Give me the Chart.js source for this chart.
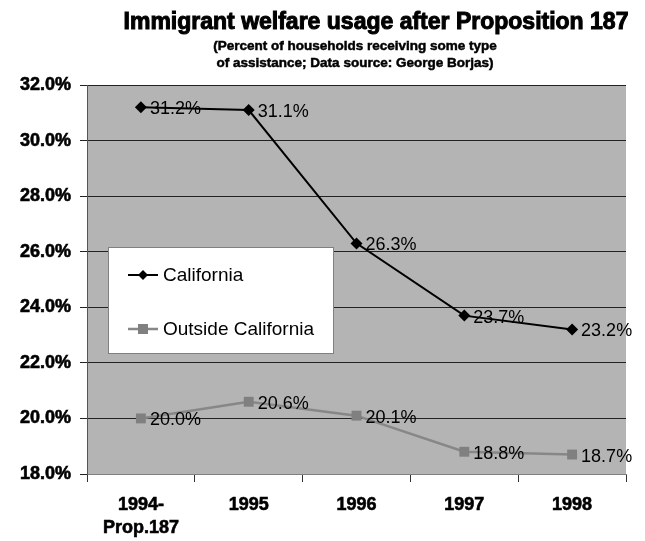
<!DOCTYPE html>
<html lang="en">
<head>
<meta charset="UTF-8">
<title>Immigrant welfare usage after Proposition 187</title>
<script src="https://cdn.jsdelivr.net/npm/chart.js"></script>
<style>
    body { margin: 0; background: #fff; }
    #wrap { width: 645px; height: 541px; }
</style>
</head>
<body>
<div id="wrap"><canvas id="chart"></canvas></div>
<script>
// data
const categories = [["1994-", "Prop.187"], "1995", "1996", "1997", "1998"];
const california = [31.2, 31.1, 26.3, 23.7, 23.2];
const outsideCalifornia = [20.0, 20.6, 20.1, 18.8, 18.7];
const seriesNames = ["California", "Outside California"];

const FONT = "'Liberation Sans', Arial, sans-serif";

// grey plot background
const plotBg = {
    id: 'plotBg',
    beforeDraw(chart) {
        const a = chart.chartArea, c = chart.ctx;
        c.save();
        c.fillStyle = '#b4b4b4';
        c.fillRect(a.left, a.top, a.right - a.left, a.bottom - a.top);
        c.restore();
    }
};

// title + subtitle (stroked a little to look heavier)
const titles = {
    id: 'titles',
    afterDraw(chart) {
        const c = chart.ctx;
        c.save();
        c.fillStyle = '#000';
        c.strokeStyle = '#000';
        c.textAlign = 'center';
        c.textBaseline = 'alphabetic';
        c.font = 'bold 23px ' + FONT;
        c.lineWidth = 1;
        c.fillText('Immigrant welfare usage after Proposition 187', 376, 29);
        c.strokeText('Immigrant welfare usage after Proposition 187', 376, 29);
        c.font = 'bold 13.5px ' + FONT;
        c.lineWidth = 0.5;
        ['(Percent of households receiving some type', 'of assistance; Data source: George Borjas)'].forEach((t, i) => {
            c.fillText(t, 355, 50 + i * 17);
            c.strokeText(t, 355, 50 + i * 17);
        });
        c.restore();
    }
};

// value labels right of each point
const valueLabels = {
    id: 'valueLabels',
    afterDatasetsDraw(chart) {
        const c = chart.ctx;
        c.save();
        c.font = '18px ' + FONT;
        c.fillStyle = '#000';
        c.textAlign = 'left';
        c.textBaseline = 'middle';
        chart.data.datasets.forEach((ds, i) => {
            chart.getDatasetMeta(i).data.forEach((pt, j) => {
                c.fillText(ds.data[j].toFixed(1) + '%', pt.x + 9, pt.y + 2);
            });
        });
        c.restore();
    }
};

// boxed legend inside the plot
const boxLegend = {
    id: 'boxLegend',
    afterDraw(chart) {
        const c = chart.ctx;
        const x = 108, y = 247, w = 225, h = 106;
        c.save();
        c.fillStyle = '#fff';
        c.fillRect(x, y, w, h);
        c.strokeStyle = '#808080';
        c.lineWidth = 1;
        c.strokeRect(x + 0.5, y + 0.5, w, h);
        chart.data.datasets.forEach((ds, i) => {
            const ly = 275 + i * 54;
            c.strokeStyle = ds.borderColor;
            c.lineWidth = ds.borderWidth;
            c.beginPath();
            c.moveTo(128, ly);
            c.lineTo(158, ly);
            c.stroke();
            c.fillStyle = ds.pointBackgroundColor;
            c.beginPath();
            if (ds.pointStyle === 'rectRot') {
                c.moveTo(143, ly - 5); c.lineTo(148, ly); c.lineTo(143, ly + 5); c.lineTo(138, ly);
            } else {
                c.rect(138, ly - 5, 10, 10);
            }
            c.closePath();
            c.fill();
            c.fillStyle = '#000';
            c.font = '19px ' + FONT;
            c.textBaseline = 'middle';
            c.fillText(ds.label, 163, ly + 1);
        });
        c.restore();
    }
};

new Chart(document.getElementById('chart'), {
    type: 'line',
    data: {
        labels: categories,
        datasets: [
            {
                label: seriesNames[0],
                data: california,
                borderColor: '#000',
                borderWidth: 2,
                pointStyle: 'rectRot',
                pointRadius: 6,
                pointBackgroundColor: '#000',
                pointBorderColor: '#000',
                pointBorderWidth: 0,
                tension: 0
            },
            {
                label: seriesNames[1],
                data: outsideCalifornia,
                borderColor: '#878787',
                borderWidth: 2.5,
                pointStyle: 'rect',
                pointRadius: 7,
                pointBackgroundColor: '#808080',
                pointBorderColor: '#808080',
                pointBorderWidth: 0,
                tension: 0
            }
        ]
    },
    options: {
        responsive: true,
        maintainAspectRatio: false,
        animation: false,
        layout: { padding: { top: 85, right: 19, left: 0, bottom: 0 } },
        plugins: {
            legend: { display: false },
            title: { display: false },
            tooltip: { enabled: false }
        },
        scales: {
            x: {
                offset: true,
                grid: {
                    offset: true,
                    drawOnChartArea: false,
                    color: '#333',
                    tickLength: 8
                },
                border: { color: '#808080' },
                ticks: {
                    color: '#000',
                    font: { family: FONT, size: 18, weight: 'bold', lineHeight: 1.3 },
                    textStrokeColor: '#000',
                    textStrokeWidth: 0.6,
                    maxRotation: 0,
                    padding: 11
                },
                afterFit(s) { s.height = 67; }
            },
            y: {
                min: 18,
                max: 32,
                ticks: {
                    stepSize: 2,
                    color: '#000',
                    font: { family: FONT, size: 18, weight: 'bold' },
                    textStrokeColor: '#000',
                    textStrokeWidth: 0.6,
                    padding: 9,
                    callback: v => v.toFixed(1) + '%'
                },
                grid: { color: '#222', tickLength: 7 },
                border: { color: '#555' },
                afterFit(s) { s.width = 87; }
            }
        }
    },
    plugins: [plotBg, valueLabels, boxLegend, titles]
});
</script>
</body>
</html>
